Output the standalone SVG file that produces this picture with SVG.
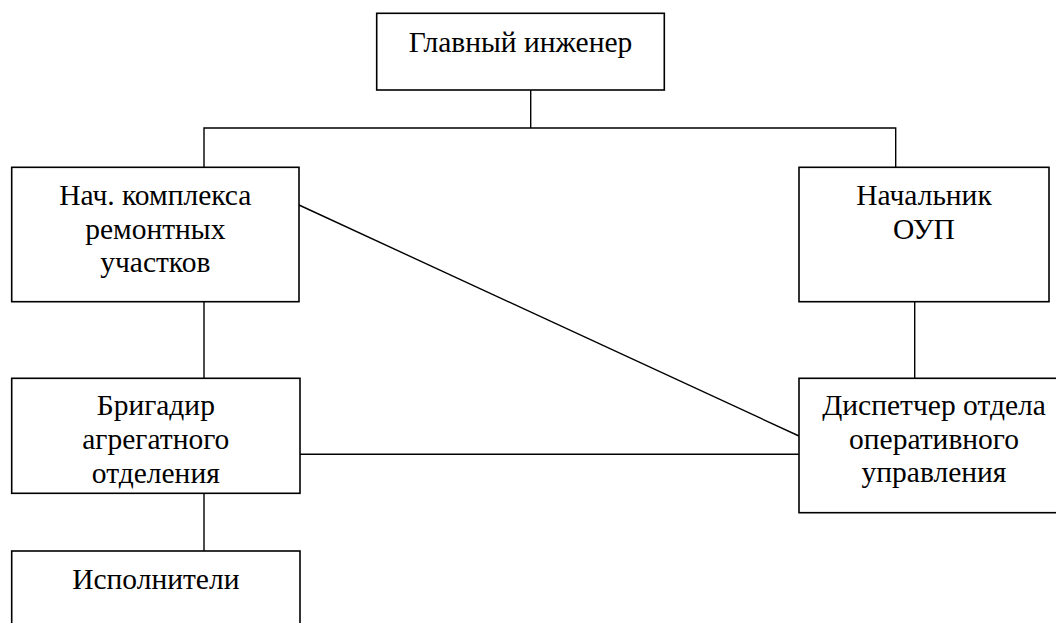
<svg xmlns="http://www.w3.org/2000/svg" width="1056" height="623" viewBox="0 0 1056 623">
<rect width="1056" height="623" fill="#fff"/>
<g id="connectors" fill="none" stroke="#000" stroke-width="1.4">
<polyline points="530.7,90 530.7,128"/>
<polyline points="204,167.3 204,128 895.7,128 895.7,167.3"/>
<line x1="204" y1="301.7" x2="204" y2="378.3"/>
<line x1="204" y1="493.3" x2="204" y2="551"/>
<line x1="914.7" y1="301.7" x2="914.7" y2="378.3"/>
<line x1="299" y1="205" x2="799" y2="436"/>
<line x1="300" y1="454.3" x2="799" y2="454.3"/>
</g>
<g id="glavny">
<rect x="376.7" y="13.3" width="287.6" height="76.7" fill="#fff" stroke="#000" stroke-width="1.6"/>
<text x="520.5" y="51.7" font-family="Liberation Serif" font-size="29.5" text-anchor="middle">Главный инженер</text>
</g>
<g id="nach-kompleksa">
<rect x="11.7" y="167.3" width="287.3" height="134.4" fill="#fff" stroke="#000" stroke-width="1.6"/>
<text x="155.3" y="205" font-family="Liberation Serif" font-size="29.5" text-anchor="middle">Нач. комплекса</text>
<text x="155.3" y="239" font-family="Liberation Serif" font-size="29.5" text-anchor="middle">ремонтных</text>
<text x="155.3" y="272" font-family="Liberation Serif" font-size="29.5" text-anchor="middle">участков</text>
</g>
<g id="nachalnik-oup">
<rect x="799" y="167.3" width="250" height="134.4" fill="#fff" stroke="#000" stroke-width="1.6"/>
<text x="924" y="205" font-family="Liberation Serif" font-size="29.5" text-anchor="middle">Начальник</text>
<text x="924" y="239" font-family="Liberation Serif" font-size="29.5" text-anchor="middle">ОУП</text>
</g>
<g id="brigadir">
<rect x="11.7" y="378.3" width="288.3" height="115" fill="#fff" stroke="#000" stroke-width="1.6"/>
<text x="155.8" y="415" font-family="Liberation Serif" font-size="29.5" text-anchor="middle">Бригадир</text>
<text x="155.8" y="449" font-family="Liberation Serif" font-size="29.5" text-anchor="middle">агрегатного</text>
<text x="155.8" y="482.7" font-family="Liberation Serif" font-size="29.5" text-anchor="middle">отделения</text>
</g>
<g id="dispetcher">
<rect x="799" y="378.3" width="270" height="134.4" fill="#fff" stroke="#000" stroke-width="1.6"/>
<text x="934" y="415" font-family="Liberation Serif" font-size="29.5" text-anchor="middle">Диспетчер отдела</text>
<text x="934" y="449" font-family="Liberation Serif" font-size="29.5" text-anchor="middle">оперативного</text>
<text x="934" y="481.7" font-family="Liberation Serif" font-size="29.5" text-anchor="middle">управления</text>
</g>
<g id="ispolniteli">
<rect x="11.7" y="551" width="288.3" height="90" fill="#fff" stroke="#000" stroke-width="1.6"/>
<text x="155.8" y="589.3" font-family="Liberation Serif" font-size="29.5" text-anchor="middle">Исполнители</text>
</g>
</svg>
